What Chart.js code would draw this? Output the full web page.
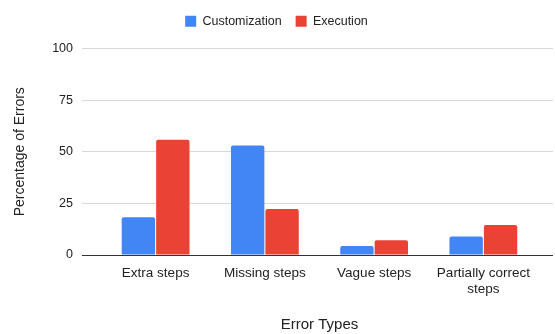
<!DOCTYPE html>
<html lang="en">
<head>
  <meta charset="UTF-8" />
  <title>Error Types</title>
  <script src="https://cdn.jsdelivr.net/npm/chart.js"></script>
  <style>
    html, body {
      margin: 0;
      padding: 0;
      background: #ffffff;
    }
    #wrap {
      width: 555px;
      height: 334px;
    }
  </style>
</head>
<body>
  <div id="wrap"><canvas id="errChart"></canvas></div>

  <script>
    const CATEGORIES = ["Extra steps", "Missing steps", "Vague steps", ["Partially correct", "steps"]];
    const CUSTOMIZATION = [18.3, 53, 4.3, 8.9];
    const EXECUTION = [55.8, 22.3, 7.2, 14.5];
    const Y_TICKS = [0, 25, 50, 75, 100];

    const FONT = "Arial, 'Liberation Sans', sans-serif";
    const gridColor = ctx => (ctx.tick && ctx.tick.value === 0) ? "#333333" : "#d9d9d9";

    // extra room under the legend
    const legendGap = {
      id: "legendGap",
      beforeInit(chart) {
        const fit = chart.legend.fit;
        chart.legend.fit = function () {
          fit.bind(chart.legend)();
          this.height += 11;
        };
      },
    };

    new Chart(document.getElementById("errChart"), {
      type: "bar",
      data: {
        labels: CATEGORIES,
        datasets: [
          {
            label: "Customization",
            data: CUSTOMIZATION,
            backgroundColor: "#4285f4",
            borderRadius: { topLeft: 2, topRight: 2 },
            borderSkipped: "bottom",
            categoryPercentage: 0.63,
            barPercentage: 0.97,
          },
          {
            label: "Execution",
            data: EXECUTION,
            backgroundColor: "#ea4335",
            borderRadius: { topLeft: 2, topRight: 2 },
            borderSkipped: "bottom",
            categoryPercentage: 0.63,
            barPercentage: 0.97,
          },
        ],
      },
      plugins: [legendGap],
      options: {
        responsive: true,
        maintainAspectRatio: false,
        animation: false,
        layout: { padding: { top: 1, right: 2, left: 0, bottom: 0 } },
        plugins: {
          tooltip: { enabled: false },
          legend: {
            position: "top",
            labels: {
              boxWidth: 11,
              boxHeight: 11,
              padding: 14,
              color: "#222222",
              font: { family: FONT, size: 12.5 },
            },
          },
        },
        scales: {
          x: {
            grid: { display: false },
            border: { display: false },
            ticks: {
              color: "#222222",
              padding: 2,
              maxRotation: 0,
              autoSkip: false,
              font: { family: FONT, size: 13.5 },
            },
            title: {
              display: true,
              text: "Error Types",
              color: "#222222",
              padding: { top: 4, bottom: 0 },
              font: { family: FONT, size: 15 },
            },
            afterFit: scale => { scale.height = 79; },
          },
          y: {
            min: 0,
            max: 100,
            afterBuildTicks: scale => { scale.ticks = Y_TICKS.map(v => ({ value: v })); },
            grid: { color: gridColor, tickColor: gridColor, tickLength: 19 },
            border: { display: false },
            ticks: {
              color: "#222222",
              padding: 9,
              font: { family: FONT, size: 12.5 },
            },
            title: {
              display: true,
              text: "Percentage of Errors",
              color: "#222222",
              padding: { top: 12, bottom: 4 },
              font: { family: FONT, size: 14 },
            },
            afterFit: scale => { scale.width = 101; },
          },
          y2: {
            position: "right",
            min: 0,
            max: 100,
            afterBuildTicks: scale => { scale.ticks = Y_TICKS.map(v => ({ value: v })); },
            grid: { drawOnChartArea: false, color: gridColor, tickColor: gridColor, tickLength: 15 },
            border: { display: false },
            ticks: { display: false },
            afterFit: scale => { scale.width = 15; },
          },
        },
      },
    });
  </script>
</body>
</html>
